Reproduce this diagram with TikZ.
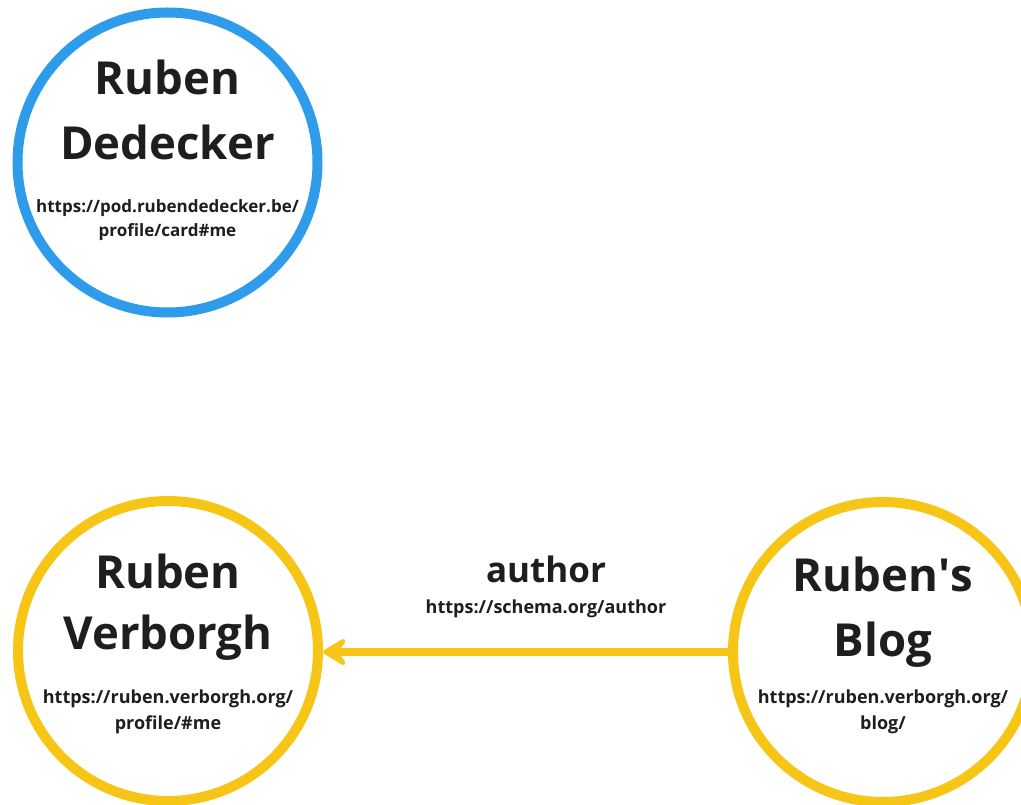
\documentclass[tikz,border=0pt]{standalone}
\usepackage{fontspec}
\setmainfont{Open Sans}
\usetikzlibrary{arrows.meta}
\definecolor{resblue}{HTML}{2E9BEB}
\definecolor{resyellow}{HTML}{F7C516}
\definecolor{ink}{HTML}{1E1E1E}
\tikzset{
  resource/.style={circle, draw=#1, line width=10pt, fill=white,
    minimum size=300pt, inner sep=0pt},
  title/.style={anchor=base, text=ink, font=\bfseries\fontsize{45.5}{45.5}\selectfont, inner sep=0pt},
  iri/.style={anchor=base, text=ink, font=\bfseries\fontsize{#1}{#1}\selectfont, inner sep=0pt},
  iri/.default=18,
  predicate/.style={anchor=base, text=ink, font=\bfseries\fontsize{35}{35}\selectfont, inner sep=0pt},
  link/.style={draw=resyellow, line width=8pt,
    -{Stealth[length=30pt, width=36pt, inset=13pt, round]}},
}
\begin{document}
\begin{tikzpicture}[x=1pt, y=-1pt]
  \useasboundingbox[fill=white] (0,0) rectangle (1021,805);

  % resources
  \node[resource=resblue]   (dedecker) at (167.5,162.5) {};
  \node[resource=resyellow] (verborgh) at (168,651) {};
  \node[resource=resyellow] (blog)     at (883,652) {};

  % Ruben Dedecker
  \node[title]   (dedeckerA) at (167.5,95)  {Ruben};
  \node[title]   (dedeckerB) at (167.5,160) {Dedecker};
  \node[iri=17]  (dedeckerC) at (167.5,213) {https://pod.rubendedecker.be/};
  \node[iri=17]  (dedeckerD) at (167.5,237) {profile/card\#me};

  % Ruben Verborgh
  \node[title] (verborghA) at (168,588) {Ruben};
  \node[title] (verborghB) at (168,649) {Verborgh};
  \node[iri]   (verborghC) at (168,703) {https://ruben.verborgh.org/};
  \node[iri]   (verborghD) at (168,729) {profile/\#me};

  % Ruben's Blog
  \node[title] (blogA) at (883,591) {Ruben\textquotesingle s};
  \node[title] (blogB) at (883,656) {Blog};
  \node[iri]   (blogC) at (883,703) {https://ruben.verborgh.org/};
  \node[iri]   (blogD) at (883,729) {blog/};

  % author relation
  \draw[link] (blog.west) -- (verborgh.east |- blog.west);
  \node[predicate] (authorA) at (546,582) {author};
  \node[iri]       (authorB) at (546,613) {https://schema.org/author};
\end{tikzpicture}
\end{document}
